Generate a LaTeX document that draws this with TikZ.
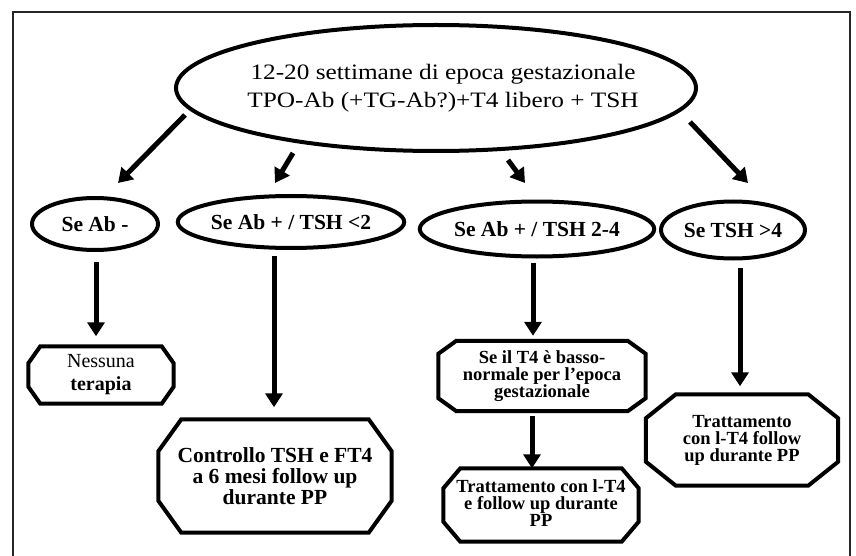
\documentclass[tikz,border=0pt]{standalone}
\usepackage{fontspec}
\setmainfont{Liberation Serif}
\newfontfamily\widefont[FakeStretch=1.15]{Liberation Serif}
\usetikzlibrary{shapes.geometric,arrows.meta,calc}
\tikzset{
  ell/.style={ellipse, draw, line width=4pt, inner sep=0pt, align=center,
    font=\bfseries\fontsize{21.5}{22}\selectfont},
  oct/.style={rectangle, inner sep=0pt, align=center,
    font=\bfseries\fontsize{18.5}{17}\selectfont},
  arr/.style={line width=5pt, -{Triangle[length=14pt,width=17pt]}},
  octline/.style={line width=4pt, line join=miter},
  frameline/.style={line width=1.5pt, black!85},
}
\newcommand\octframe[3]{%
  \draw[octline] ([xshift=#2]#1.north west) -- ([xshift=-#2]#1.north east)
    -- ([yshift=-#3]#1.north east) -- ([yshift=#3]#1.south east)
    -- ([xshift=-#2]#1.south east) -- ([xshift=#2]#1.south west)
    -- ([yshift=#3]#1.south west) -- ([yshift=-#3]#1.north west) -- cycle;}
\begin{document}
\begin{tikzpicture}[x=1pt,y=-1pt]
\useasboundingbox (0,0) rectangle (856,556);
\begin{scope}
  \clip (0,0) rectangle (856,556);
  \draw[frameline] (13,12) rectangle (850,600);
\end{scope}

% top ellipse
\node[ell, minimum width=520pt, minimum height=126pt,
  font=\widefont\fontsize{22}{28}\selectfont] (top) at (436,88)
  {\makebox[0pt]{\hspace*{14pt}\begin{tabular}{@{}c@{}}12-20 settimane di epoca gestazionale\\TPO-Ab (+TG-Ab?)+T4 libero + TSH\end{tabular}}};

% second row
\node[ell, minimum width=126pt, minimum height=52pt] (s1) at (95,224) {Se Ab -};
\node[ell, minimum width=215pt, minimum height=52pt] (s2) at (291,222) {Se Ab + / TSH <2};
\node[ell, minimum width=228pt, minimum height=55pt] (s3) at (537,229) {Se Ab + / TSH 2-4};
\node[ell, minimum width=144pt, minimum height=57pt] (s4) at (733,230) {Se TSH >4};

% octagons
\node[oct, minimum width=145pt, minimum height=57pt, font=\fontsize{20}{23}\selectfont] (o1) at (101,375)
  {Nessuna\\\bfseries terapia};
\octframe{o1}{12pt}{17pt}
\node[oct, minimum width=233pt, minimum height=113pt, font=\bfseries\fontsize{21.5}{21}\selectfont] (o2) at (275,476)
  {Controllo TSH e FT4\\a 6 mesi follow up\\durante PP};
\octframe{o2}{23pt}{32pt}
\node[oct, minimum width=207pt, minimum height=70pt] (o3) at (542,376)
  {Se il T4 è basso-\\normale per l’epoca\\gestazionale};
\octframe{o3}{18pt}{13pt}
\node[oct, minimum width=195pt, minimum height=73pt] (o4) at (541,505)
  {Trattamento con l-T4\\e follow up durante\\PP\rule[-3pt]{0pt}{1pt}};
\octframe{o4}{17pt}{20pt}
\node[oct, minimum width=192pt, minimum height=91pt] (o5) at (742,440)
  {Trattamento\\con l-T4 follow\\up durante PP};
\octframe{o5}{30pt}{24pt}

% arrows from top ellipse
\draw[arr] ([shift={(-251pt,-27pt)}]top.center) -- ([shift={(23pt,41pt)}]s1.center);
\draw[arr] ([shift={(-143pt,-65pt)}]top.center) -- ([shift={(-16pt,39pt)}]s2.center);
\draw[arr] ([shift={(72pt,-72pt)}]top.center) -- ([shift={(-12pt,46pt)}]s3.center);
\draw[arr] ([shift={(254pt,-34pt)}]top.center) -- ([shift={(15pt,47pt)}]s4.center);

% vertical arrows
\draw[arr] ($(s1.south)+(1,10)$) -- ($(s1.south |- o1.north)+(1,-10)$);
\draw[arr] ($(o2.north |- s2.south)+(-1,6)$) -- ($(o2.north)+(-1,-12)$);
\draw[arr] ($(s3.south)+(-4,4)$) -- ($(s3.south |- o3.north)+(-4,-5)$);
\draw[arr] ($(o5.north |- s4.south)+(-2,7)$) -- ($(o5.north)+(-2,-8)$);
\draw[arr] ($(o3.south)+(-10,5)$) -- ($(o4.north)+(-9,0)$);
\end{tikzpicture}
\end{document}
